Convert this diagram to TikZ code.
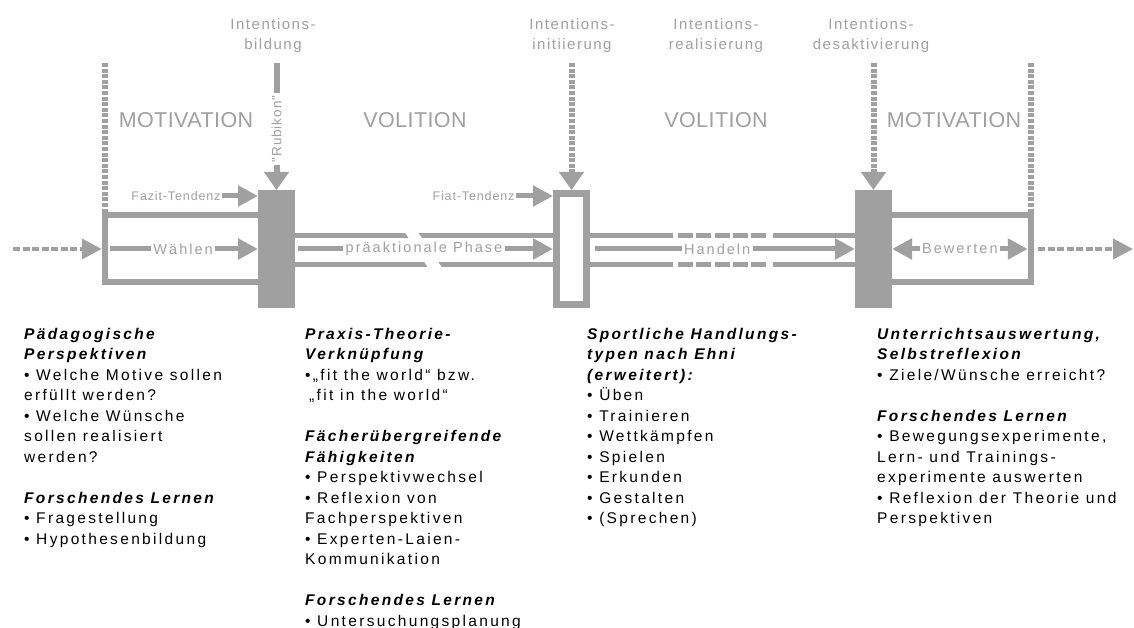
\documentclass[tikz,border=0pt]{standalone}
\usepackage{fontspec}
\setmainfont{Liberation Sans}
\newfontfamily\labfont{Liberation Sans}[LetterSpace=14]
\newfontfamily\toplabfont{Liberation Sans}[LetterSpace=10]
\newfontfamily\smallfont{Liberation Sans}[LetterSpace=7]
\newfontfamily\bigfont{Liberation Sans}[LetterSpace=2]
\newfontfamily\bodyfont{Liberation Sans}[LetterSpace=15]
\usetikzlibrary{arrows.meta}
\definecolor{gr}{HTML}{A0A0A0}
\newcommand\hdg[1]{{\bfseries\itshape #1}}
\begin{document}
\begin{tikzpicture}[x=1pt,y=-1pt,
  blockfill/.style={fill=gr, draw=none, minimum width=37pt, minimum height=118pt, inner sep=0pt, outer sep=0pt},
  openblock/.style={draw=gr, fill=white, line width=7pt, minimum width=30pt, minimum height=111pt, inner sep=0pt},
  tube/.style={draw=gr, line width=5pt},
  boxline/.style={draw=gr, line width=6.5pt},
  harr/.style={draw=gr, line width=5pt, -{Triangle[length=20pt,width=20pt]}},
  varr/.style={draw=gr, line width=6pt, -{Triangle[length=18pt,width=24pt]}},
  dotv/.style={draw=gr, line width=6pt, dash pattern=on 4pt off 1.6pt},
  dashl/.style={draw=gr, line width=4pt, dash pattern=on 7pt off 2.5pt},
  toplab/.style={text=gr, font=\toplabfont\fontsize{15}{20}\selectfont, align=center, inner sep=0pt},
  midlab/.style={text=gr, fill=white, font=\labfont\fontsize{14.5}{17}\selectfont, inner sep=2.5pt},
  smalllab/.style={text=gr, font=\smallfont\fontsize{12.5}{14}\selectfont, inner sep=1.5pt},
  biglab/.style={text=gr, font=\bigfont\fontsize{21.5}{24}\selectfont, inner sep=0pt},
  body/.style={anchor=north west, align=left, inner sep=0pt, text=black, font=\bodyfont\fontsize{15.5}{20.5}\selectfont}
]
\fill[white] (0,0) rectangle (1134,628);
\useasboundingbox (0,0) rectangle (1134,628);

% blocks
\node[blockfill] (rub) at (276.5,249) {};
\node[blockfill] (des) at (873.5,249) {};

% tubes
\draw[tube] (rub.east |- 0,235.5) -- (553,235.5);
\draw[tube] (rub.east |- 0,264.5) -- (553,264.5);
\fill[white] (404,231) -- (417,231) -- (443,269) -- (429,269) -- cycle;
\draw[tube] (590,235.5) -- (673,235.5);
\draw[tube] (590,264.5) -- (673,264.5);
\draw[tube, dash pattern=on 15pt off 3.25pt] (678,235.5) -- (766,235.5);
\draw[tube, dash pattern=on 15pt off 3.25pt] (678,264.5) -- (766,264.5);
\draw[tube] (773,235.5) -- (des.west |- 0,235.5);
\draw[tube] (773,264.5) -- (des.west |- 0,264.5);

\node[openblock] (ini) at (571.5,249) {};

% left box
\draw[boxline] (101.75,215) -- (rub.west |- 0,215);
\draw[boxline] (101.75,282) -- (rub.west |- 0,282);
\draw[boxline] (105,210) -- (105,285.25);
% right box
\draw[boxline] (des.east |- 0,215) -- (1034.25,215);
\draw[boxline] (des.east |- 0,282) -- (1034.25,282);
\draw[boxline] (1031,210) -- (1031,285.25);

% dotted verticals
\coordinate (ltop) at (105,63);
\coordinate (lbot) at (105,210);
\coordinate (rtop) at (1031,63);
\coordinate (rbot) at (1031,210);
\draw[dotv] (ltop) -- (lbot);
\draw[dotv] (rtop) -- (rbot);

% vertical arrows
\coordinate (rubtop) at (276.5,63);
\coordinate (initop) at (571.5,63);
\coordinate (destop) at (873.5,63);
\draw[varr] (rubtop) -- node[pos=0.52, rotate=90, fill=white, text=gr, font=\smallfont\fontsize{13.5}{13}\selectfont, inner sep=2.5pt] (rubikon) {"Rubikon"} (rub.north);
\draw[varr, dash pattern=on 4pt off 1.6pt] (initop) -- (ini.north);
\draw[varr, dash pattern=on 4pt off 1.6pt] (destop) -- (des.north);

% top labels
\node[toplab] (lbild) at (273,36) {Intentions-\\bildung};
\node[toplab] (linit) at (572,36) {Intentions-\\initiierung};
\node[toplab] (lreal) at (716,36) {Intentions-\\realisierung};
\node[toplab] (ldes) at (871,36) {Intentions-\\desaktivierung};

% big labels
\node[biglab] (mot1) at (186,120) {MOTIVATION};
\node[biglab] (vol1) at (415,120) {VOLITION};
\node[biglab] (vol2) at (716,120) {VOLITION};
\node[biglab] (mot2) at (954,120) {MOTIVATION};

% tendencies
\node[smalllab] (fazit) at (176,196) {Fazit-Tendenz};
\draw[harr] (fazit.east) -- (rub.west |- fazit);
\node[smalllab] (fiat) at (473.5,196) {Fiat-Tendenz};
\draw[harr] (fiat.east) -- (ini.west |- fiat);

% main flow
\coordinate (inS) at (13,249);
\coordinate (lbox) at (101.75,249);
\coordinate (lboxin) at (108.25,249);
\coordinate (rbox) at (1027.75,249);
\coordinate (rboxout) at (1034.25,249);
\coordinate (outE) at (1133,249);
\draw[dashl, -{Triangle[length=20pt,width=20pt]}] (inS) -- (lbox);
\draw[harr, shorten <=2pt] (lboxin) -- node[midlab] (waehlen) {Wählen} (rub.west);
\draw[harr, shorten <=3pt] (rub.east) -- node[midlab] (praek) {präaktionale Phase} (ini.west);
\draw[harr, shorten <=5pt] (ini.east) -- node[midlab, pos=0.48] (handeln) {Handeln} (des.west);
\draw[draw=gr, line width=5pt, {Triangle[length=20pt,width=20pt]}-{Triangle[length=20pt,width=20pt]}] (des.east) -- node[midlab] (bewerten) {Bewerten} (rbox);
\draw[dashl, -{Triangle[length=20pt,width=20pt]}, shorten <=4pt] (rboxout) -- (outE);

% text columns
\node[body] (col1) at (24,327.7) {\hdg{Pädagogische}\\
\hdg{Perspektiven}\\
• Welche Motive sollen\\
erfüllt werden?\\
• Welche Wünsche\\
sollen realisiert\\
werden?\\[20.5pt]
\hdg{Forschendes Lernen}\\
• Fragestellung\\
• Hypothesenbildung};

\node[body] (col2) at (305,327.7) {\hdg{Praxis-Theorie-}\\
\hdg{Verknüpfung}\\
•„fit the world“ bzw.\\
\hspace{4pt}„fit in the world“\\[20.5pt]
\hdg{Fächerübergreifende}\\
\hdg{Fähigkeiten}\\
• Perspektivwechsel\\
• Reflexion von\\
Fachperspektiven\\
• Experten-Laien-\\
Kommunikation\\[20.5pt]
\hdg{Forschendes Lernen}\\
• Untersuchungsplanung};

\node[body] (col3) at (587,327.7) {\hdg{Sportliche Handlungs-}\\
\hdg{typen nach Ehni}\\
\hdg{(erweitert):}\\
• Üben\\
• Trainieren\\
• Wettkämpfen\\
• Spielen\\
• Erkunden\\
• Gestalten\\
• (Sprechen)};

\node[body] (col4) at (877,327.7) {\hdg{Unterrichtsauswertung,}\\
\hdg{Selbstreflexion}\\
• Ziele/Wünsche erreicht?\\[20.5pt]
\hdg{Forschendes Lernen}\\
• Bewegungsexperimente,\\
Lern- und Trainings-\\
experimente auswerten\\
• Reflexion der Theorie und\\
Perspektiven};
\end{tikzpicture}
\end{document}
